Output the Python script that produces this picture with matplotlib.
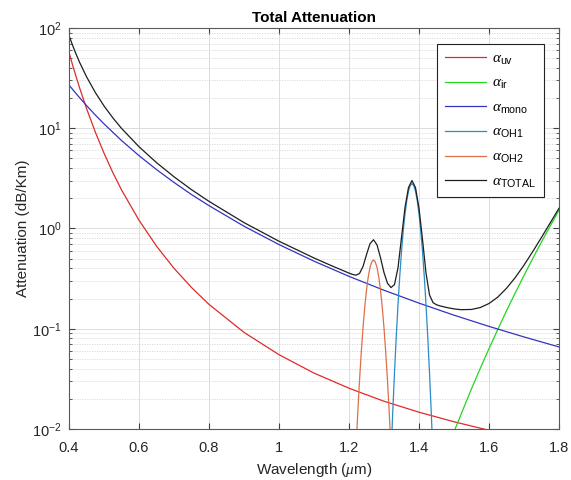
import matplotlib
matplotlib.use('Agg')
import matplotlib.pyplot as plt
from matplotlib.ticker import NullFormatter

plt.rcParams['font.family'] = ['Liberation Sans', 'DejaVu Sans']
plt.rcParams['mathtext.fontset'] = 'custom'
plt.rcParams['mathtext.rm'] = 'Liberation Sans'
plt.rcParams['mathtext.it'] = 'Liberation Serif:italic'
plt.rcParams['mathtext.bf'] = 'Liberation Sans:bold'

# attenuation curves (dB/Km vs wavelength in um)
uv_x = [0.40, 0.41, 0.42, 0.43, 0.45, 0.475, 0.50, 0.525, 0.55, 0.60, 0.65, 0.70,
        0.75, 0.80, 0.90, 1.00, 1.10, 1.20, 1.30, 1.40, 1.50, 1.60, 1.70, 1.80]
uv_y = [57.2, 43.1, 33.0, 25.5, 15.8, 9.2, 5.65, 3.63, 2.43, 1.21, 0.667, 0.401,
        0.258, 0.175, 0.092, 0.0551, 0.0361, 0.0255, 0.0189, 0.0147, 0.0118, 0.0097,
        0.0082, 0.0070]

ir_x = [1.40, 1.45, 1.50, 1.55, 1.575, 1.60, 1.625, 1.65, 1.675, 1.70, 1.725, 1.75,
        1.775, 1.80]
ir_y = [0.0011, 0.0033, 0.0094, 0.0252, 0.0402, 0.0633, 0.0982, 0.151, 0.2276, 0.340,
        0.5023, 0.734, 1.062, 1.52]

mono_x = [0.40, 0.425, 0.45, 0.475, 0.50, 0.55, 0.60, 0.65, 0.70, 0.75, 0.80, 0.90,
          1.00, 1.10, 1.20, 1.30, 1.40, 1.50, 1.60, 1.70, 1.80]
mono_y = [27.0, 21.19, 16.86, 13.58, 11.06, 7.55, 5.33, 3.87, 2.88, 2.18, 1.69, 1.053,
          0.691, 0.472, 0.333, 0.242, 0.180, 0.1365, 0.1055, 0.0828, 0.0658]

oh1_x = [1.315, 1.32, 1.325, 1.33, 1.335, 1.34, 1.345, 1.35, 1.355, 1.36, 1.365, 1.37,
         1.375, 1.38, 1.385, 1.39, 1.395, 1.40, 1.405, 1.41, 1.415, 1.42, 1.425, 1.43,
         1.435, 1.44, 1.445]
oh1_y = [0.00182, 0.0054, 0.0147, 0.0365, 0.0832, 0.1738, 0.334, 0.587, 0.946, 1.398,
         1.894, 2.354, 2.681, 2.8, 2.681, 2.354, 1.894, 1.398, 0.946, 0.587, 0.334,
         0.1738, 0.0832, 0.0365, 0.0147, 0.0054, 0.00182]

oh2_x = [1.21, 1.215, 1.22, 1.225, 1.23, 1.235, 1.24, 1.245, 1.25, 1.255, 1.26, 1.265,
         1.27, 1.275, 1.28, 1.285, 1.29, 1.295, 1.30, 1.305, 1.31, 1.315, 1.32, 1.325,
         1.33]
oh2_y = [0.00094, 0.00255, 0.00633, 0.01444, 0.0302, 0.0579, 0.102, 0.164, 0.243, 0.329,
         0.409, 0.465, 0.486, 0.465, 0.409, 0.329, 0.243, 0.164, 0.102, 0.0579, 0.0302,
         0.01444, 0.00633, 0.00255, 0.00094]

total_x = [0.40, 0.41, 0.42, 0.43, 0.45, 0.475, 0.50, 0.525, 0.55, 0.60, 0.65, 0.70,
           0.75, 0.80, 0.90, 1.00, 1.10, 1.15, 1.20, 1.21, 1.22, 1.23, 1.24, 1.25,
           1.26, 1.27, 1.28, 1.29, 1.30, 1.31, 1.32, 1.33, 1.34, 1.35, 1.36, 1.37,
           1.38, 1.39, 1.40, 1.41, 1.42, 1.43, 1.44, 1.45, 1.46, 1.48, 1.50, 1.52,
           1.55, 1.575, 1.60, 1.625, 1.65, 1.675, 1.70, 1.725, 1.75, 1.775, 1.80]
total_y = [84.2, 67.6, 55.2, 45.7, 32.7, 22.8, 16.71, 12.73, 9.98, 6.54, 4.54, 3.28,
           2.44, 1.865, 1.145, 0.746, 0.508, 0.4253, 0.3589, 0.3481, 0.3422, 0.3554,
           0.4169, 0.5479, 0.7044, 0.7723, 0.6865, 0.5121, 0.3629, 0.2839, 0.2573,
           0.2758, 0.4053, 0.8117, 1.616, 2.566, 3.006, 2.554, 1.594, 0.7776, 0.3595,
           0.2176, 0.1822, 0.1734, 0.1690, 0.1626, 0.1577, 0.1549, 0.1557, 0.1627,
           0.1785, 0.2066, 0.2532, 0.3239, 0.431, 0.5883, 0.815, 1.139, 1.593]

fig, ax = plt.subplots(figsize=(5.71, 4.8), dpi=100)
fig.subplots_adjust(left=0.1208, right=0.979, top=0.9417, bottom=0.1063)

lw = 0.9
ax.plot(uv_x, uv_y, color='#e02a2a', lw=lw, label=r'$\alpha_{\mathrm{uv}}$')
ax.plot(ir_x, ir_y, color='#22d622', lw=lw, label=r'$\alpha_{\mathrm{ir}}$')
ax.plot(mono_x, mono_y, color='#3434c0', lw=lw, label=r'$\alpha_{\mathrm{mono}}$')
ax.plot(oh1_x, oh1_y, color='#2a8cc8', lw=lw, label=r'$\alpha_{\mathrm{OH1}}$')
ax.plot(oh2_x, oh2_y, color='#dc7048', lw=lw, label=r'$\alpha_{\mathrm{OH2}}$')
ax.plot(total_x, total_y, color='#1e1e1e', lw=lw, label=r'$\alpha_{\mathrm{TOTAL}}$')

ax.set_yscale('log')
ax.set_xlim(0.4, 1.8)
ax.set_ylim(1e-2, 1e2)
ax.set_xticks([0.4, 0.6, 0.8, 1.0, 1.2, 1.4, 1.6, 1.8])
ax.set_xticklabels(['0.4', '0.6', '0.8', '1', '1.2', '1.4', '1.6', '1.8'])
ax.set_yticks([1e-2, 1e-1, 1e0, 1e1, 1e2])
ax.set_yticklabels([r'$\mathrm{10^{-2}}$', r'$\mathrm{10^{-1}}$', r'$\mathrm{10^{0}}$',
                    r'$\mathrm{10^{1}}$', r'$\mathrm{10^{2}}$'])
ax.yaxis.set_minor_formatter(NullFormatter())

ax.grid(True, which='major', color='#dcdcdc', lw=0.7)
ax.yaxis.grid(True, which='minor', color='#d8d8d8', lw=0.6, linestyle=(0, (1.5, 1.5)))
ax.set_axisbelow(True)

for s in ax.spines.values():
    s.set_color('#5a5a5a')
    s.set_linewidth(0.8)
ax.tick_params(which='both', direction='in', top=True, right=True,
               color='#404040', labelcolor='#262626', labelsize=10.5)
ax.tick_params(which='major', length=4.5)
ax.tick_params(which='minor', length=2.5)
ax.tick_params(axis='x', which='minor', bottom=False, top=False)
ax.tick_params(axis='x', pad=9)
ax.tick_params(axis='y', pad=5)

ax.set_title('Total Attenuation', fontsize=11, fontweight='bold', pad=4)
ax.set_xlabel(r'Wavelength ($\mu$m)', fontsize=11, color='#262626', labelpad=4)
ax.set_ylabel('Attenuation (dB/Km)', fontsize=11, color='#262626', labelpad=2)

leg = ax.legend(loc='upper right', bbox_to_anchor=(0.969, 0.960), borderaxespad=0,
                fontsize=11, handlelength=2.7, handletextpad=0.4, labelspacing=0.62,
                fancybox=False, framealpha=1, edgecolor='#222222', borderpad=0.5)
leg.get_frame().set_linewidth(0.8)

plt.savefig('out.png', dpi=100)
